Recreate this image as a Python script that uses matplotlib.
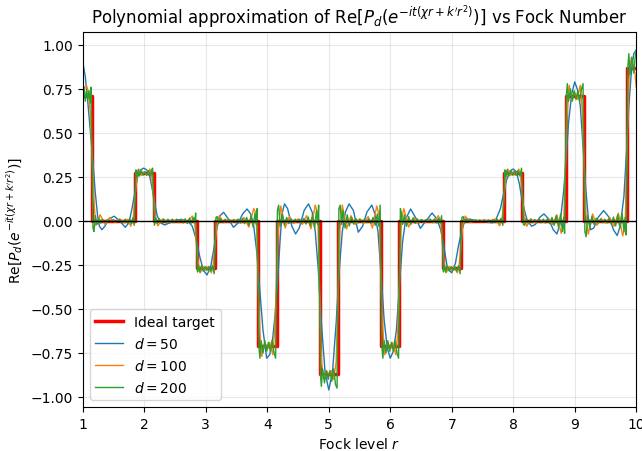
import numpy as np
import matplotlib
matplotlib.use("Agg")
import matplotlib.pyplot as plt

# ---- data ----
fock_levels = [1, 2, 3, 4, 5, 6, 7, 8, 9, 10]
target_values = [0.71, 0.27, -0.27, -0.71, -0.87, -0.71, -0.27, 0.27, 0.71, 0.87]
target_halfwidth = 0.15

d50_pts = [
    (1.00, 0.90), (1.04, 0.82), (1.08, 0.68), (1.12, 0.52), (1.16, 0.36), (1.20, 0.17),
    (1.24, 0.03), (1.27, -0.03), (1.31, -0.05), (1.36, -0.03), (1.42, 0.01), (1.51, 0.027),
    (1.60, 0.00), (1.69, -0.036), (1.75, -0.01), (1.80, 0.07), (1.85, 0.17), (1.89, 0.25),
    (1.94, 0.29), (1.99, 0.30), (2.04, 0.29), (2.09, 0.25), (2.13, 0.18), (2.17, 0.10),
    (2.21, 0.03), (2.26, -0.01), (2.33, -0.023), (2.42, -0.01), (2.52, 0.005), (2.62, 0.008),
    (2.72, -0.005), (2.78, -0.03), (2.84, -0.10), (2.90, -0.20), (2.96, -0.28), (3.02, -0.307),
    (3.08, -0.26), (3.13, -0.16), (3.18, -0.04), (3.23, 0.03), (3.29, 0.049), (3.37, 0.01),
    (3.45, -0.036), (3.53, -0.01), (3.60, 0.04), (3.67, 0.068), (3.73, 0.04), (3.78, -0.03),
    (3.83, -0.18), (3.88, -0.40), (3.93, -0.62), (3.99, -0.78), (4.04, -0.76), (4.09, -0.66),
    (4.13, -0.52), (4.17, -0.33), (4.21, -0.10), (4.24, 0.04), (4.28, 0.097), (4.33, 0.07),
    (4.40, -0.03), (4.46, -0.074), (4.52, -0.04), (4.60, 0.06), (4.67, 0.097), (4.73, 0.05),
    (4.78, -0.06), (4.83, -0.28), (4.88, -0.58), (4.94, -0.86), (5.00, -0.96), (5.06, -0.86),
    (5.12, -0.58), (5.17, -0.28), (5.22, -0.06), (5.27, 0.05), (5.33, 0.097), (5.40, 0.06),
    (5.48, -0.064), (5.55, -0.03), (5.62, 0.05), (5.70, 0.09), (5.75, 0.04), (5.80, -0.06),
    (5.85, -0.30), (5.90, -0.56), (5.95, -0.72), (6.00, -0.78), (6.05, -0.74), (6.10, -0.62),
    (6.15, -0.36), (6.20, -0.12), (6.25, 0.01), (6.33, 0.068), (6.41, 0.02), (6.49, -0.042),
    (6.58, 0.00), (6.68, 0.045), (6.76, 0.01), (6.82, -0.05), (6.87, -0.14), (6.93, -0.27),
    (7.00, -0.295), (7.06, -0.24), (7.11, -0.14), (7.16, -0.06), (7.22, 0.01), (7.30, 0.01),
    (7.40, 0.00), (7.50, 0.00), (7.60, -0.008), (7.66, -0.011), (7.72, 0.01), (7.79, 0.068),
    (7.84, 0.15), (7.89, 0.23), (7.95, 0.285), (8.00, 0.295), (8.05, 0.28), (8.10, 0.21),
    (8.14, 0.125), (8.19, 0.05), (8.23, 0.00), (8.30, -0.03), (8.36, -0.02), (8.43, 0.02),
    (8.50, 0.04), (8.58, 0.01), (8.65, -0.05), (8.71, -0.074), (8.76, -0.02), (8.82, 0.17),
    (8.86, 0.35), (8.90, 0.56), (8.95, 0.72), (9.00, 0.79), (9.05, 0.74), (9.09, 0.655),
    (9.13, 0.45), (9.18, 0.18), (9.22, 0.02), (9.26, -0.05), (9.31, -0.04), (9.38, 0.02),
    (9.47, 0.059), (9.56, 0.02), (9.63, -0.05), (9.69, -0.083), (9.74, -0.03), (9.80, 0.14),
    (9.84, 0.38), (9.88, 0.655), (9.92, 0.84), (9.96, 0.95), (10.00, 0.97),
]

d100_pts = [
    (1.00, 0.70), (1.03, 0.76), (1.06, 0.77), (1.09, 0.73), (1.12, 0.62), (1.15, 0.38),
    (1.18, 0.12), (1.21, -0.025), (1.24, -0.01), (1.28, 0.035), (1.36, -0.02), (1.44, 0.02),
    (1.52, -0.01), (1.60, 0.012), (1.68, -0.012), (1.73, 0.01), (1.78, -0.03), (1.82, 0.02),
    (1.85, 0.14), (1.88, 0.25), (1.91, 0.295), (1.96, 0.26), (2.00, 0.28), (2.04, 0.26),
    (2.09, 0.295), (2.12, 0.25), (2.15, 0.14), (2.18, 0.02), (2.22, -0.028), (2.30, 0.012),
    (2.38, -0.008), (2.46, 0.005), (2.54, -0.004), (2.62, 0.006), (2.70, -0.01), (2.78, 0.028),
    (2.82, -0.02), (2.85, -0.14), (2.88, -0.25), (2.91, -0.295), (2.96, -0.26), (3.00, -0.28),
    (3.04, -0.26), (3.09, -0.295), (3.12, -0.25), (3.15, -0.14), (3.18, -0.02), (3.22, 0.03),
    (3.29, -0.01), (3.36, 0.01), (3.43, -0.008), (3.50, 0.008), (3.57, -0.012), (3.62, 0.02),
    (3.70, -0.035), (3.78, 0.07), (3.82, 0.04), (3.85, -0.33), (3.88, -0.64), (3.91, -0.77),
    (3.96, -0.69), (4.00, -0.73), (4.04, -0.69), (4.09, -0.76), (4.12, -0.62), (4.15, -0.36),
    (4.18, -0.05), (4.22, 0.085), (4.29, -0.04), (4.36, 0.025), (4.43, -0.015), (4.50, 0.012),
    (4.57, -0.02), (4.64, 0.03), (4.71, -0.045), (4.78, 0.09), (4.82, 0.04), (4.85, -0.40),
    (4.88, -0.80), (4.92, -0.90), (4.96, -0.85), (5.00, -0.87), (5.04, -0.85), (5.08, -0.90),
    (5.12, -0.80), (5.15, -0.45), (5.18, -0.05), (5.22, 0.09), (5.29, -0.045), (5.36, 0.03),
    (5.43, -0.02), (5.50, 0.012), (5.57, -0.015), (5.64, 0.025), (5.71, -0.04), (5.78, 0.085),
    (5.82, 0.03), (5.85, -0.36), (5.88, -0.62), (5.91, -0.76), (5.96, -0.69), (6.00, -0.73),
    (6.04, -0.69), (6.09, -0.76), (6.12, -0.64), (6.15, -0.33), (6.18, 0.00), (6.22, 0.07),
    (6.30, -0.035), (6.38, 0.02), (6.43, -0.012), (6.50, 0.008), (6.57, -0.008), (6.64, 0.01),
    (6.71, -0.01), (6.78, 0.03), (6.82, 0.00), (6.85, -0.14), (6.88, -0.25), (6.91, -0.295),
    (6.96, -0.26), (7.00, -0.28), (7.04, -0.26), (7.09, -0.295), (7.12, -0.25), (7.15, -0.14),
    (7.18, -0.02), (7.22, 0.028), (7.30, -0.01), (7.38, 0.006), (7.46, -0.004), (7.54, 0.005),
    (7.62, -0.008), (7.70, 0.012), (7.78, -0.028), (7.82, 0.02), (7.85, 0.14), (7.88, 0.25),
    (7.91, 0.295), (7.96, 0.26), (8.00, 0.28), (8.04, 0.26), (8.09, 0.295), (8.12, 0.25),
    (8.15, 0.14), (8.18, 0.02), (8.22, -0.03), (8.29, 0.012), (8.36, -0.01), (8.43, 0.008),
    (8.50, -0.008), (8.57, 0.012), (8.64, -0.02), (8.71, 0.035), (8.78, -0.07), (8.82, -0.02),
    (8.85, 0.33), (8.88, 0.64), (8.91, 0.77), (8.96, 0.69), (9.00, 0.73), (9.04, 0.69),
    (9.09, 0.77), (9.12, 0.64), (9.15, 0.35), (9.18, 0.04), (9.22, -0.075), (9.29, 0.04),
    (9.36, -0.025), (9.43, 0.015), (9.50, -0.012), (9.57, 0.02), (9.64, -0.03), (9.71, 0.045),
    (9.78, -0.085), (9.82, -0.03), (9.85, 0.40), (9.88, 0.80), (9.92, 0.93), (9.96, 0.86),
    (9.98, 0.84), (10.00, 0.76),
]

d200_pts = [
    (1.00, 0.70), (1.02, 0.76), (1.04, 0.68), (1.06, 0.74), (1.08, 0.69), (1.10, 0.74),
    (1.12, 0.67), (1.135, 0.76), (1.15, 0.36), (1.165, -0.04), (1.18, -0.06), (1.205, 0.03),
    (1.23, -0.02), (1.26, 0.015), (1.29, -0.012), (1.32, 0.01), (1.36, -0.008), (1.40, 0.008),
    (1.45, -0.006), (1.50, 0.006), (1.55, -0.006), (1.60, 0.008), (1.65, -0.008), (1.69, 0.01),
    (1.73, -0.012), (1.76, 0.012), (1.79, -0.015), (1.815, 0.018), (1.835, -0.025), (1.85, 0.13),
    (1.865, 0.29), (1.88, 0.25), (1.90, 0.29), (1.92, 0.255), (1.95, 0.285), (1.98, 0.26),
    (2.01, 0.28), (2.04, 0.26), (2.07, 0.285), (2.10, 0.255), (2.12, 0.29), (2.135, 0.30),
    (2.15, 0.14), (2.165, -0.025), (2.185, 0.018), (2.21, -0.015), (2.245, 0.012), (2.28, -0.01),
    (2.315, 0.01), (2.35, -0.01), (2.385, 0.01), (2.42, -0.01), (2.455, 0.01), (2.49, -0.01),
    (2.525, 0.01), (2.56, -0.01), (2.595, 0.01), (2.63, -0.012), (2.665, 0.012), (2.70, -0.014),
    (2.735, 0.016), (2.765, -0.012), (2.80, 0.02), (2.82, -0.01), (2.835, 0.045), (2.85, -0.13),
    (2.865, -0.29), (2.88, -0.25), (2.90, -0.29), (2.93, -0.255), (2.96, -0.285), (2.99, -0.26),
    (3.02, -0.28), (3.05, -0.26), (3.08, -0.285), (3.11, -0.255), (3.135, -0.30), (3.15, -0.14),
    (3.165, 0.02), (3.185, 0.025), (3.21, -0.015), (3.245, 0.012), (3.28, -0.01), (3.315, 0.01),
    (3.35, -0.008), (3.385, 0.008), (3.42, -0.008), (3.455, 0.008), (3.49, -0.01), (3.525, 0.01),
    (3.56, -0.012), (3.595, 0.014), (3.63, -0.016), (3.665, 0.02), (3.70, -0.025), (3.735, 0.03),
    (3.77, -0.035), (3.80, 0.045), (3.82, -0.02), (3.835, 0.07), (3.85, -0.35), (3.865, -0.72),
    (3.88, -0.78), (3.90, -0.68), (3.93, -0.75), (3.96, -0.68), (3.99, -0.74), (4.02, -0.69),
    (4.05, -0.74), (4.08, -0.68), (4.11, -0.75), (4.135, -0.78), (4.15, -0.36), (4.165, 0.06),
    (4.185, 0.09), (4.21, -0.03), (4.245, 0.04), (4.28, -0.025), (4.315, 0.02), (4.35, -0.015),
    (4.385, 0.012), (4.42, -0.01), (4.455, 0.01), (4.49, -0.01), (4.525, 0.01), (4.56, -0.012),
    (4.595, 0.014), (4.63, -0.018), (4.665, 0.022), (4.70, -0.028), (4.735, 0.035), (4.77, -0.04),
    (4.80, 0.06), (4.82, -0.02), (4.835, 0.09), (4.85, -0.42), (4.865, -0.88), (4.88, -0.94),
    (4.90, -0.84), (4.93, -0.92), (4.96, -0.85), (4.99, -0.90), (5.02, -0.85), (5.05, -0.91),
    (5.08, -0.84), (5.11, -0.93), (5.135, -0.95), (5.15, -0.44), (5.165, 0.07), (5.185, 0.09),
    (5.21, -0.02), (5.23, 0.06), (5.265, -0.04), (5.30, 0.035), (5.335, -0.028), (5.37, 0.022),
    (5.405, -0.018), (5.44, 0.014), (5.475, -0.012), (5.51, 0.01), (5.545, -0.01), (5.58, 0.01),
    (5.615, -0.01), (5.65, 0.012), (5.685, -0.015), (5.72, 0.02), (5.755, -0.025), (5.79, 0.04),
    (5.815, -0.03), (5.835, 0.09), (5.85, -0.36), (5.865, -0.72), (5.88, -0.78), (5.90, -0.68),
    (5.93, -0.75), (5.96, -0.68), (5.99, -0.74), (6.02, -0.69), (6.05, -0.74), (6.08, -0.68),
    (6.11, -0.75), (6.135, -0.78), (6.15, -0.35), (6.165, 0.07), (6.18, 0.045), (6.20, -0.02),
    (6.23, 0.035), (6.265, -0.03), (6.30, 0.025), (6.335, -0.02), (6.37, 0.016), (6.405, -0.014),
    (6.44, 0.012), (6.475, -0.01), (6.51, 0.008), (6.545, -0.008), (6.58, 0.008), (6.615, -0.008),
    (6.65, 0.01), (6.685, -0.01), (6.72, 0.012), (6.755, -0.012), (6.79, 0.015), (6.815, -0.012),
    (6.835, 0.03), (6.85, -0.13), (6.865, -0.29), (6.88, -0.25), (6.90, -0.29), (6.93, -0.255),
    (6.96, -0.285), (6.99, -0.26), (7.02, -0.28), (7.05, -0.26), (7.08, -0.285), (7.11, -0.255),
    (7.135, -0.30), (7.15, -0.14), (7.165, 0.02), (7.185, 0.025), (7.21, -0.012), (7.245, 0.01),
    (7.28, -0.008), (7.315, 0.008), (7.35, -0.006), (7.385, 0.006), (7.42, -0.006), (7.455, 0.006),
    (7.49, -0.006), (7.525, 0.006), (7.56, -0.006), (7.595, 0.006), (7.63, -0.008), (7.665, 0.008),
    (7.70, -0.01), (7.735, 0.012), (7.77, -0.012), (7.80, 0.015), (7.83, -0.025), (7.85, 0.13),
    (7.865, 0.29), (7.88, 0.25), (7.90, 0.29), (7.93, 0.255), (7.96, 0.285), (7.99, 0.26),
    (8.02, 0.28), (8.05, 0.26), (8.08, 0.285), (8.11, 0.255), (8.135, 0.30), (8.15, 0.14),
    (8.165, -0.02), (8.185, -0.025), (8.21, 0.015), (8.245, -0.012), (8.28, 0.01), (8.315, -0.01),
    (8.35, 0.008), (8.385, -0.008), (8.42, 0.008), (8.455, -0.01), (8.49, 0.01), (8.525, -0.012),
    (8.56, 0.014), (8.595, -0.016), (8.63, 0.02), (8.665, -0.025), (8.70, 0.03), (8.735, -0.035),
    (8.77, 0.04), (8.80, -0.06), (8.82, 0.02), (8.835, -0.07), (8.85, 0.35), (8.865, 0.72),
    (8.88, 0.78), (8.90, 0.68), (8.93, 0.75), (8.96, 0.68), (8.99, 0.74), (9.02, 0.69),
    (9.05, 0.74), (9.08, 0.68), (9.11, 0.75), (9.135, 0.78), (9.15, 0.36), (9.165, -0.06),
    (9.185, -0.09), (9.21, 0.03), (9.245, -0.04), (9.28, 0.025), (9.315, -0.02), (9.35, 0.015),
    (9.385, -0.012), (9.42, 0.01), (9.455, -0.01), (9.49, 0.01), (9.525, -0.012), (9.56, 0.014),
    (9.595, -0.018), (9.63, 0.022), (9.665, -0.028), (9.70, 0.035), (9.735, -0.04), (9.77, 0.045),
    (9.80, -0.06), (9.82, 0.02), (9.835, -0.08), (9.85, 0.42), (9.865, 0.88), (9.88, 0.95),
    (9.90, 0.83), (9.93, 0.93), (9.96, 0.84), (9.98, 0.92), (10.00, 0.97),
]

# ---- build ideal target step curve from levels ----
tx, ty = [], []
for n, v in zip(fock_levels, target_values):
    lo = max(n - target_halfwidth, fock_levels[0])
    hi = min(n + target_halfwidth, fock_levels[-1])
    if lo > fock_levels[0]:
        tx += [lo]
        ty += [0.0]
    tx += [lo, hi]
    ty += [v, v]
    if hi < fock_levels[-1]:
        tx += [hi]
        ty += [0.0]

r50, v50 = np.array(d50_pts).T
r100, v100 = np.array(d100_pts).T
r200, v200 = np.array(d200_pts).T

fig = plt.figure(figsize=(6.42, 4.52), dpi=100)
ax = fig.add_axes([0.129, 0.0973, 0.862, 0.830])

ax.plot(tx, ty, color='red', lw=2.5, label='Ideal target')
ax.plot(r50, v50, color='#1f77b4', lw=1.0, label='$d=50$')
ax.plot(r100, v100, color='#ff7f0e', lw=1.0, label='$d=100$')
ax.plot(r200, v200, color='#2ca02c', lw=1.0, label='$d=200$')
ax.axhline(0, color='black', lw=1.0)

ax.set_xlim(1, 10)
ax.set_ylim(-1.057, 1.074)
ax.set_xticks(fock_levels)
ax.set_yticks([-1.0, -0.75, -0.5, -0.25, 0.0, 0.25, 0.5, 0.75, 1.0])
ax.grid(True, alpha=0.3)
ax.set_xlabel('Fock level $r$')
ax.set_ylabel(r"Re$[P_d(e^{-it(\chi r+k'r^2)})]$")
ax.set_title(r"Polynomial approximation of Re$[P_d(e^{-it(\chi r+k'r^2)})]$ vs Fock Number", fontsize=12)
ax.legend(loc='lower left', fontsize=10)

fig.savefig('out.png', dpi=100)
